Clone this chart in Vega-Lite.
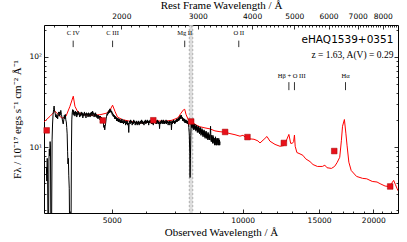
{
"$schema": "https://vega.github.io/schema/vega-lite/v6.json",
"width": 354, "height": 188,
"autosize": {"type": "none"},
"padding": {"left": 44, "top": 25, "right": 9, "bottom": 29},
"config": {
  "view": {"stroke": "#000", "strokeWidth": 1},
  "axis": {"domain": false, "grid": false, "tickColor": "#000", "tickWidth": 0.8, "labelColor": "#000", "labelFont": "DejaVu Sans", "labelFontSize": 7.5, "titleFont": "Liberation Serif", "titleFontSize": 11, "titleFontWeight": "normal", "titleColor": "#000"}
},
"datasets": {
  "band": [{"lo": 7540, "hi": 7680}],
  "edges": [{"w": 7540}, {"w": 7680}],
  "spec": [
{"w":3535,"f":6.0},{"w":3543,"f":4.2},{"w":3550,"f":7.5},{"w":3557,"f":5.0},{"w":3565,"f":1.2},{"w":3575,"f":1.2},{"w":3582,"f":7.0},{"w":3590,"f":9.5},{"w":3597,"f":8.0},{"w":3605,"f":11.5},{"w":3612,"f":10.0},{"w":3619,"f":1.2},{"w":3633,"f":1.2},{"w":3643,"f":12.0},{"w":3652,"f":18.0},{"w":3662,"f":23.0},{"w":3672,"f":26.0},{"w":3682,"f":28.5},{"w":3692,"f":25.0},{"w":3702,"f":24.0},{"w":3712,"f":21.5},{"w":3722,"f":23.0},{"w":3732,"f":21.0},{"w":3742,"f":22.5},{"w":3752,"f":20.5},{"w":3762,"f":23.5},{"w":3772,"f":24.5},{"w":3782,"f":22.0},{"w":3792,"f":24.5},{"w":3802,"f":22.5},{"w":3815,"f":25.5},{"w":3828,"f":23.0},{"w":3841,"f":21.0},{"w":3853,"f":19.0},{"w":3865,"f":18.0},{"w":3876,"f":20.0},{"w":3887,"f":22.5},{"w":3898,"f":20.5},{"w":3908,"f":23.0},{"w":3918,"f":20.0},{"w":3928,"f":19.0},{"w":3937,"f":16.5},{"w":3946,"f":14.0},{"w":3955,"f":9.0},{"w":3963,"f":6.5},{"w":3971,"f":7.5},{"w":3980,"f":4.8},{"w":3990,"f":3.5},{"w":3998,"f":1.2},{"w":4028,"f":1.2},{"w":4036,"f":9.0},
{"w":4044,"f":20.0},{"w":4053,"f":24.0},{"w":4063,"f":26.0},{"w":4072,"f":23.0},{"w":4082,"f":25.5},{"w":4092,"f":22.5},{"w":4102,"f":24.5},{"w":4112,"f":22.0},{"w":4122,"f":25.0},{"w":4132,"f":23.0},{"w":4142,"f":24.5},{"w":4152,"f":21.5},{"w":4162,"f":24.0},{"w":4172,"f":22.5},{"w":4182,"f":25.0},{"w":4192,"f":23.0},{"w":4204,"f":24.0},{"w":4216,"f":21.5},{"w":4228,"f":23.5},{"w":4240,"f":22.0},{"w":4252,"f":24.5},{"w":4264,"f":22.5},{"w":4276,"f":24.0},{"w":4288,"f":21.0},{"w":4300,"f":23.5},{"w":4312,"f":22.0},{"w":4324,"f":24.5},{"w":4336,"f":22.5},{"w":4348,"f":23.5},{"w":4360,"f":21.0},{"w":4372,"f":24.0},{"w":4384,"f":22.5},{"w":4396,"f":23.5},{"w":4408,"f":21.5},{"w":4420,"f":24.0},{"w":4432,"f":22.0},{"w":4444,"f":23.5},{"w":4456,"f":21.5},{"w":4468,"f":24.0},{"w":4480,"f":22.5},{"w":4492,"f":24.5},{"w":4504,"f":22.0},{"w":4516,"f":25.0},{"w":4528,"f":23.0},{"w":4540,"f":24.0},{"w":4552,"f":21.5},{"w":4564,"f":23.5},{"w":4576,"f":22.0},{"w":4588,"f":24.0},{"w":4600,"f":21.5},{"w":4612,"f":23.0},{"w":4624,"f":21.0},{"w":4636,"f":22.5},{"w":4648,"f":20.5},{"w":4660,"f":22.5},{"w":4672,"f":21.0},{"w":4684,"f":22.0},{"w":4696,"f":20.0},{"w":4708,"f":22.0},{"w":4720,"f":20.5},{"w":4732,"f":21.5},{"w":4744,"f":19.5},{"w":4756,"f":20.5},{"w":4768,"f":18.5},{"w":4780,"f":19.0},{"w":4792,"f":16.5},{"w":4804,"f":17.5},{"w":4816,"f":15.5},{"w":4828,"f":17.0},{"w":4840,"f":18.5},{"w":4852,"f":20.5},{"w":4864,"f":22.0},{"w":4876,"f":23.5},{"w":4888,"f":22.5},{"w":4900,"f":24.5},{"w":4912,"f":23.5},{"w":4924,"f":25.5},{"w":4936,"f":24.0},{"w":4948,"f":26.5},{"w":4960,"f":24.5},{"w":4972,"f":26.0},{"w":4984,"f":24.0},{"w":4996,"f":25.0},{"w":5008,"f":23.0},{"w":5020,"f":24.0},{"w":5032,"f":22.0},{"w":5044,"f":23.0},{"w":5056,"f":21.5},{"w":5068,"f":22.5},{"w":5080,"f":20.5},{"w":5092,"f":22.0},{"w":5104,"f":20.5},{"w":5116,"f":21.5},{"w":5128,"f":19.5},{"w":5140,"f":21.0},{"w":5152,"f":19.5},{"w":5164,"f":21.0},{"w":5176,"f":19.0},{"w":5188,"f":20.5},{"w":5200,"f":19.0},{"w":5215,"f":20.5},{"w":5230,"f":18.5},{"w":5245,"f":20.0},{"w":5260,"f":18.5},{"w":5275,"f":20.5},{"w":5290,"f":18.5},{"w":5305,"f":19.5},{"w":5320,"f":18.0},{"w":5335,"f":20.0},{"w":5350,"f":18.5},{"w":5365,"f":19.5},{"w":5380,"f":17.5},{"w":5395,"f":19.5},{"w":5410,"f":18.0},{"w":5425,"f":19.5},{"w":5440,"f":17.5},{"w":5455,"f":18.5},{"w":5470,"f":14.5},{"w":5480,"f":18.0},{"w":5495,"f":19.5},{"w":5510,"f":18.0},{"w":5525,"f":20.0},{"w":5540,"f":18.5},{"w":5555,"f":19.5},{"w":5570,"f":17.5},{"w":5585,"f":19.0},{"w":5600,"f":18.0},{"w":5615,"f":20.0},{"w":5630,"f":18.5},{"w":5645,"f":19.5},{"w":5660,"f":17.5},{"w":5675,"f":19.0},{"w":5690,"f":18.0},{"w":5705,"f":19.5},{"w":5720,"f":17.5},{"w":5735,"f":19.0},{"w":5750,"f":18.0},{"w":5765,"f":19.5},{"w":5780,"f":17.5},{"w":5795,"f":19.0},{"w":5810,"f":18.0},{"w":5825,"f":19.5},{"w":5840,"f":18.5},{"w":5855,"f":20.0},{"w":5870,"f":18.0},{"w":5885,"f":19.5},{"w":5900,"f":18.0},{"w":5915,"f":19.0},{"w":5930,"f":17.5},{"w":5945,"f":19.5},{"w":5960,"f":18.5},{"w":5975,"f":20.0},{"w":5990,"f":18.0},{"w":6005,"f":19.5},{"w":6020,"f":18.5},{"w":6035,"f":20.0},{"w":6050,"f":18.5},{"w":6065,"f":19.5},{"w":6080,"f":17.5},{"w":6095,"f":19.5},{"w":6110,"f":18.5},{"w":6125,"f":20.0},{"w":6140,"f":18.5},{"w":6155,"f":19.5},{"w":6170,"f":18.0},{"w":6185,"f":19.5},{"w":6200,"f":18.0},{"w":6215,"f":19.5},{"w":6230,"f":17.5},{"w":6245,"f":19.5},{"w":6260,"f":18.5},{"w":6275,"f":20.5},{"w":6290,"f":19.0},{"w":6305,"f":20.0},{"w":6320,"f":18.0},{"w":6335,"f":19.5},{"w":6350,"f":18.0},{"w":6365,"f":20.0},{"w":6380,"f":18.5},{"w":6395,"f":19.5},{"w":6410,"f":18.0},{"w":6425,"f":19.0},{"w":6440,"f":16.0},{"w":6455,"f":19.0},{"w":6470,"f":18.0},{"w":6485,"f":19.5},{"w":6500,"f":18.5},{"w":6515,"f":20.0},{"w":6530,"f":18.0},{"w":6545,"f":19.5},{"w":6560,"f":18.5},{"w":6575,"f":20.0},{"w":6590,"f":18.0},{"w":6605,"f":19.5},{"w":6620,"f":18.0},{"w":6635,"f":19.0},{"w":6650,"f":18.5},{"w":6665,"f":20.0},{"w":6680,"f":18.0},{"w":6695,"f":19.5},{"w":6710,"f":18.5},{"w":6725,"f":19.5},{"w":6740,"f":17.5},{"w":6755,"f":19.0},{"w":6770,"f":18.5},{"w":6785,"f":19.5},{"w":6800,"f":17.5},{"w":6815,"f":19.0},{"w":6830,"f":18.5},{"w":6845,"f":19.5},{"w":6860,"f":15.5},{"w":6875,"f":19.0},{"w":6890,"f":18.0},{"w":6905,"f":19.5},{"w":6920,"f":18.5},{"w":6935,"f":20.0},{"w":6950,"f":18.5},{"w":6965,"f":19.5},{"w":6980,"f":18.0},{"w":6995,"f":19.5},{"w":7010,"f":18.5},{"w":7025,"f":20.0},{"w":7040,"f":19.0},{"w":7055,"f":20.5},{"w":7070,"f":19.0},{"w":7085,"f":20.5},{"w":7100,"f":19.5},{"w":7115,"f":21.0},{"w":7130,"f":19.5},{"w":7145,"f":21.5},{"w":7160,"f":20.0},{"w":7175,"f":22.0},{"w":7190,"f":20.5},{"w":7205,"f":22.5},{"w":7220,"f":21.0},{"w":7235,"f":22.5},{"w":7250,"f":20.5},{"w":7265,"f":21.5},{"w":7280,"f":19.5},{"w":7295,"f":21.0},{"w":7310,"f":19.5},{"w":7325,"f":20.5},{"w":7340,"f":19.0},{"w":7355,"f":20.5},{"w":7370,"f":18.5},{"w":7385,"f":20.0},{"w":7400,"f":18.5},{"w":7415,"f":20.0},{"w":7430,"f":18.5},{"w":7445,"f":19.5},{"w":7460,"f":18.0},{"w":7475,"f":19.5},{"w":7490,"f":18.0},{"w":7505,"f":18.5},{"w":7520,"f":16.5},{"w":7540,"f":14.0},{"w":7558,"f":8.5},{"w":7572,"f":4.6},{"w":7585,"f":7.5},{"w":7600,"f":13.5},{"w":7615,"f":18.0},{"w":7630,"f":16.5},{"w":7645,"f":19.0},{"w":7660,"f":16.5},{"w":7675,"f":18.5},{"w":7690,"f":16.0},{"w":7705,"f":18.0},{"w":7720,"f":15.5},{"w":7735,"f":17.5},{"w":7750,"f":16.0},{"w":7765,"f":18.0},{"w":7780,"f":15.5},{"w":7795,"f":17.0},{"w":7810,"f":15.0},{"w":7825,"f":17.5},{"w":7840,"f":15.5},{"w":7855,"f":17.0},{"w":7870,"f":14.5},{"w":7885,"f":16.5},{"w":7900,"f":15.0},{"w":7915,"f":17.0},{"w":7930,"f":14.5},{"w":7945,"f":16.5},{"w":7960,"f":14.0},{"w":7975,"f":16.0},{"w":7990,"f":14.5},{"w":8005,"f":16.5},{"w":8020,"f":13.5},{"w":8035,"f":15.5},{"w":8050,"f":14.0},{"w":8065,"f":16.0},{"w":8080,"f":13.5},{"w":8095,"f":15.5},{"w":8110,"f":13.0},{"w":8125,"f":15.0},{"w":8140,"f":13.5},{"w":8155,"f":15.5},{"w":8170,"f":13.0},{"w":8185,"f":15.0},{"w":8200,"f":12.5},{"w":8215,"f":14.5},{"w":8230,"f":13.0},{"w":8245,"f":15.0},{"w":8260,"f":12.5},{"w":8275,"f":14.5},{"w":8290,"f":12.5},{"w":8305,"f":14.0},{"w":8320,"f":12.0},{"w":8335,"f":14.5},{"w":8350,"f":12.5},{"w":8365,"f":14.0},{"w":8380,"f":12.0},{"w":8395,"f":13.5},{"w":8410,"f":12.0},{"w":8425,"f":14.0},{"w":8440,"f":17.0},{"w":8455,"f":12.5},{"w":8470,"f":11.5},{"w":8485,"f":13.5},{"w":8500,"f":11.5},{"w":8515,"f":13.0},{"w":8530,"f":11.0},{"w":8545,"f":13.5},{"w":8560,"f":11.5},{"w":8575,"f":13.0},{"w":8590,"f":11.0},{"w":8605,"f":12.5},{"w":8620,"f":10.5},{"w":8635,"f":12.5},{"w":8650,"f":11.0},{"w":8665,"f":13.0},{"w":8680,"f":10.5},{"w":8695,"f":12.5},{"w":8710,"f":10.5},{"w":8725,"f":12.0},{"w":8740,"f":10.5},{"w":8755,"f":12.5},{"w":8770,"f":11.0},{"w":8785,"f":12.0},{"w":8800,"f":10.5},{"w":8815,"f":12.5},{"w":8830,"f":10.5},{"w":8845,"f":12.0},{"w":8860,"f":10.5},{"w":8875,"f":11.5}
  ],
  "model": [
{"w":3490,"f":19.0},{"w":3603,"f":21.9},{"w":3699,"f":24.9},{"w":3759,"f":23.1},{"w":3839,"f":20.8},{"w":3921,"f":21.9},{"w":4005,"f":28.3},{"w":4076,"f":36.6},{"w":4112,"f":28.3},{"w":4178,"f":24.3},{"w":4313,"f":22.8},{"w":4453,"f":22.5},{"w":4695,"f":22.8},{"w":4855,"f":23.7},{"w":4951,"f":25.6},{"w":5020,"f":29.1},{"w":5084,"f":24.9},{"w":5152,"f":21.5},{"w":5291,"f":20.1},{"w":5505,"f":19.3},{"w":5712,"f":18.6},{"w":5929,"f":18.5},{"w":6120,"f":19.1},{"w":6352,"f":19.5},{"w":6627,"f":19.3},{"w":6878,"f":19.8},{"w":7101,"f":21.1},{"w":7214,"f":23.7},{"w":7313,"f":25.9},{"w":7359,"f":26.2},{"w":7408,"f":23.1},{"w":7509,"f":19.8},{"w":7619,"f":19.1},{"w":7849,"f":17.4},{"w":7979,"f":16.8},{"w":8193,"f":16.3},{"w":8413,"f":15.9},{"w":8639,"f":15.1},{"w":8872,"f":14.8},{"w":9110,"f":14.6},{"w":9355,"f":14.1},{"w":9607,"f":13.7},{"w":9865,"f":13.2},{"w":10023,"f":13.5},{"w":10250,"f":12.4},{"w":10626,"f":12.2},{"w":10850,"f":11.7},{"w":10969,"f":11.1},{"w":11208,"f":12.2},{"w":11382,"f":13.1},{"w":11566,"f":11.6},{"w":11879,"f":10.7},{"w":12196,"f":10.2},{"w":12458,"f":10.4},{"w":12593,"f":11.6},{"w":12785,"f":13.8},{"w":12905,"f":11.0},{"w":13020,"f":11.0},{"w":13110,"f":11.5},{"w":13168,"f":13.6},{"w":13220,"f":10.2},{"w":13338,"f":8.7},{"w":13561,"f":8.4},{"w":13770,"f":8.1},{"w":13980,"f":7.4},{"w":14300,"f":6.9},{"w":14530,"f":6.4},{"w":14870,"f":6.1},{"w":15270,"f":6.1},{"w":15470,"f":6.3},{"w":15650,"f":5.9},{"w":16020,"f":5.8},{"w":16290,"f":6.1},{"w":16500,"f":6.7},{"w":16740,"f":7.7},{"w":16890,"f":11.9},{"w":16990,"f":17.0},{"w":17160,"f":20.2},{"w":17300,"f":14.0},{"w":17400,"f":10.5},{"w":17570,"f":6.8},{"w":17790,"f":5.5},{"w":18300,"f":4.73},{"w":18900,"f":4.5},{"w":19320,"f":4.45},{"w":19890,"f":4.16},{"w":20400,"f":4.1},{"w":20730,"f":3.93},{"w":21290,"f":3.7},{"w":21710,"f":3.66},{"w":22030,"f":3.95},{"w":22280,"f":4.27},{"w":22480,"f":3.86},{"w":22690,"f":3.46},{"w":22850,"f":3.25}
  ],
  "phot": [
{"w":3540,"f":15.3},{"w":4765,"f":19.7},{"w":6230,"f":19.8},{"w":7615,"f":19.2},{"w":9117,"f":14.7},{"w":10264,"f":12.9},{"w":12449,"f":11.1},{"w":16260,"f":9.03},{"w":21876,"f":3.66}
  ],
  "lines": [
{"n":"C IV","r":1549,"t":151,"b":128},{"n":"C III","r":1909,"t":151,"b":128},{"n":"Mg II","r":2798,"t":151,"b":128},{"n":"O II","r":3727,"t":151,"b":128},{"n":"Hβ","r":4861,"t":52.4,"b":42.7},{"n":"O III","r":5007,"t":52.4,"b":42.7},{"n":"Hα","r":6563,"t":52.4,"b":42.7}
  ],
  "labels": [
{"n":"C IV","r":1549,"y":183},{"n":"C III","r":1909,"y":183},{"n":"Mg II","r":2798,"y":183},{"n":"O II","r":3727,"y":183},{"n":"Hβ + O III","r":4934,"y":61},{"n":"Hα","r":6563,"y":61}
  ],
  "name": [{"t":"eHAQ1539+0351","w":22250,"f":153}],
  "info": [{"t":"z = 1.63, A(V) = 0.29","w":22250,"f":104.5}]
},
"resolve": {"scale": {"x": "independent"}, "axis": {"x": "independent", "y": "independent"}},
"layer": [
  {"data": {"name": "band"}, "mark": {"type": "rect", "fill": "#d4d4d4", "opacity": 0.8},
   "encoding": {"x": {"field": "lo", "type": "quantitative", "scale": {"type": "log", "domain": [3490, 22800], "nice": false}, "axis": null}, "x2": {"field": "hi"}}},
  {"data": {"name": "edges"}, "mark": {"type": "rule", "color": "#a0a0a0", "strokeWidth": 0.8, "strokeDash": [2, 2]},
   "encoding": {"x": {"field": "w", "type": "quantitative", "scale": {"type": "log", "domain": [3490, 22800], "nice": false}, "axis": null}}},
  {"data": {"name": "model"}, "mark": {"type": "line", "color": "#ff0000", "strokeWidth": 1, "clip": true},
   "encoding": {
     "x": {"field": "w", "type": "quantitative", "scale": {"type": "log", "domain": [3490, 22800], "nice": false},
           "axis": {"orient": "bottom", "values": [4000, 6000, 7000, 8000, 9000, 11000, 12000, 13000, 14000, 16000, 17000, 18000, 19000, 21000, 22000], "labels": false, "tickSize": -2, "title": null}},
     "y": {"field": "f", "type": "quantitative", "scale": {"type": "log", "domain": [1.86, 225], "nice": false},
           "axis": {"orient": "left", "values": [2, 3, 4, 5, 6, 7, 8, 9, 20, 30, 40, 50, 60, 70, 80, 90, 200], "labels": false, "tickSize": -2, "title": null}}}},
  {"data": {"name": "spec"}, "mark": {"type": "line", "color": "#000", "strokeWidth": 1, "clip": true},
   "encoding": {
     "x": {"field": "w", "type": "quantitative", "scale": {"type": "log", "domain": [3490, 22800], "nice": false},
           "axis": {"orient": "bottom", "values": [5000, 10000, 15000, 20000], "format": "d", "tickSize": -4, "labelPadding": 7, "title": "Observed Wavelength / Å", "titlePadding": 3}},
     "y": {"field": "f", "type": "quantitative", "scale": {"type": "log", "domain": [1.86, 225], "nice": false},
           "axis": {"orient": "left", "values": [10, 100], "tickSize": -4, "labelPadding": 6.5, "labelExpr": "datum.value == 100 ? '10²' : '10¹'", "title": "Fλ / 10⁻¹⁷ ergs s⁻¹ cm⁻² Å⁻¹", "titlePadding": 6}}}},
  {"data": {"name": "phot"}, "mark": {"type": "point", "shape": "square", "filled": true, "size": 32, "color": "#e8101a", "stroke": "#a00000", "strokeWidth": 0.5, "opacity": 1},
   "encoding": {
     "x": {"field": "w", "type": "quantitative", "scale": {"type": "log", "domain": [3490, 22800], "nice": false}, "axis": null},
     "y": {"field": "f", "type": "quantitative", "scale": {"type": "log", "domain": [1.86, 225], "nice": false},
           "axis": {"orient": "right", "values": [10, 100], "labels": false, "tickSize": -4, "title": null}}}},
  {"data": {"name": "lines"}, "mark": {"type": "rule", "color": "#000", "strokeWidth": 0.8},
   "encoding": {
     "x": {"field": "r", "type": "quantitative", "scale": {"type": "log", "domain": [1327, 8669], "nice": false},
           "axis": {"orient": "top", "values": [2000, 3000, 4000, 5000, 6000, 7000, 8000], "format": "d", "tickSize": -4, "labelPadding": 9, "title": "Rest Frame Wavelength / Å", "titlePadding": 2}},
     "y": {"field": "t", "type": "quantitative", "scale": {"type": "log", "domain": [1.86, 225], "nice": false},
           "axis": {"orient": "right", "values": [2, 3, 4, 5, 6, 7, 8, 9, 20, 30, 40, 50, 60, 70, 80, 90, 200], "labels": false, "tickSize": -2, "title": null}},
     "y2": {"field": "b"}}},
  {"data": {"name": "labels"}, "mark": {"type": "text", "font": "Liberation Serif", "fontSize": 6.5, "color": "#000", "baseline": "middle", "align": "center"},
   "encoding": {
     "x": {"field": "r", "type": "quantitative", "scale": {"type": "log", "domain": [1327, 8669], "nice": false},
           "axis": {"orient": "top", "values": [1400,1500,1600,1700,1800,1900,2100,2200,2300,2400,2500,2600,2700,2800,2900,3100,3200,3300,3400,3500,3600,3700,3800,3900,4100,4200,4300,4400,4500,4600,4700,4800,4900,5100,5200,5300,5400,5500,5600,5700,5800,5900,6100,6200,6300,6400,6500,6600,6700,6800,6900,7100,7200,7300,7400,7500,7600,7700,7800,7900,8100,8200,8300,8400,8500,8600], "labels": false, "tickSize": -2, "title": null}},
     "y": {"field": "y", "type": "quantitative", "scale": {"type": "log", "domain": [1.86, 225], "nice": false}, "axis": null},
     "text": {"field": "n"}}},
  {"data": {"name": "name"}, "mark": {"type": "text", "font": "DejaVu Sans", "fontSize": 10.5, "color": "#000", "align": "right", "baseline": "middle"},
   "encoding": {
     "x": {"field": "w", "type": "quantitative", "scale": {"type": "log", "domain": [3490, 22800], "nice": false}, "axis": null},
     "y": {"field": "f", "type": "quantitative", "scale": {"type": "log", "domain": [1.86, 225], "nice": false}, "axis": null},
     "text": {"field": "t"}}},
  {"data": {"name": "info"}, "mark": {"type": "text", "font": "Liberation Serif", "fontSize": 9.5, "color": "#000", "align": "right", "baseline": "middle"},
   "encoding": {
     "x": {"field": "w", "type": "quantitative", "scale": {"type": "log", "domain": [3490, 22800], "nice": false}, "axis": null},
     "y": {"field": "f", "type": "quantitative", "scale": {"type": "log", "domain": [1.86, 225], "nice": false}, "axis": null},
     "text": {"field": "t"}}}
]
}
